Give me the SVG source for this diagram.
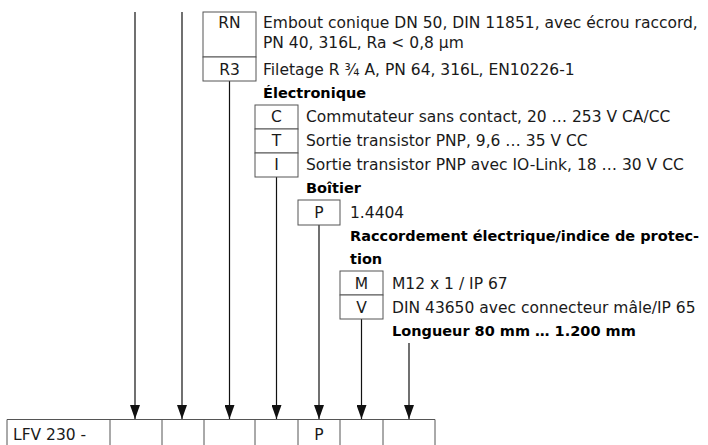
<svg xmlns="http://www.w3.org/2000/svg" width="708" height="445" viewBox="0 0 708 445">
<style>
.t{font-family:"DejaVu Sans","Liberation Sans",sans-serif;font-size:15.5px;fill:#1a1a1a}
.b{font-family:"DejaVu Sans","Liberation Sans",sans-serif;font-size:14.5px;font-weight:bold;fill:#000}
.c{text-anchor:middle}
.box{fill:#fff;stroke:#555;stroke-width:1}
.ln{stroke:#111;stroke-width:1.2;fill:none}
</style>
<defs>
<marker id="arr" viewBox="0 0 14 10" refX="14" refY="5" markerWidth="14" markerHeight="10" markerUnits="userSpaceOnUse" orient="auto">
<path d="M0,0 L14,5 L0,10 z" fill="#111"/>
</marker>
</defs>
<rect width="708" height="445" fill="#fff"/>
<g id="connectors">
<line class="ln" x1="135" y1="12" x2="135" y2="419" marker-end="url(#arr)"/>
<line class="ln" x1="182" y1="12" x2="182" y2="419" marker-end="url(#arr)"/>
<line class="ln" x1="229.5" y1="81" x2="229.5" y2="419" marker-end="url(#arr)"/>
<line class="ln" x1="276.5" y1="177" x2="276.5" y2="419" marker-end="url(#arr)"/>
<line class="ln" x1="319" y1="225" x2="319" y2="419" marker-end="url(#arr)"/>
<line class="ln" x1="361.5" y1="319" x2="361.5" y2="419" marker-end="url(#arr)"/>
<line class="ln" x1="409" y1="343" x2="409" y2="419" marker-end="url(#arr)"/>
</g>
<g id="raccord">
<rect class="box" x="203" y="12" width="53" height="45"/>
<rect class="box" x="203" y="57" width="53" height="24"/>
<text class="t c" x="229.5" y="28">RN</text>
<text class="t c" x="229.5" y="75">R3</text>
<text class="t" x="263" y="28">Embout conique DN 50, DIN 11851, avec écrou raccord,</text>
<text class="t" x="263" y="48">PN 40, 316L, Ra &lt; 0,8 µm</text>
<text class="t" x="263" y="75">Filetage R ¾ A, PN 64, 316L, EN10226-1</text>
</g>
<g id="electronique">
<text class="b" x="263" y="98">Électronique</text>
<rect class="box" x="255" y="105" width="43" height="24"/>
<rect class="box" x="255" y="129" width="43" height="24"/>
<rect class="box" x="255" y="153" width="43" height="24"/>
<text class="t c" x="276.5" y="122">C</text>
<text class="t c" x="276.5" y="146">T</text>
<text class="t c" x="276.5" y="170">I</text>
<text class="t" x="306" y="122">Commutateur sans contact, 20 … 253 V CA/CC</text>
<text class="t" x="306" y="146">Sortie transistor PNP, 9,6 … 35 V CC</text>
<text class="t" x="306" y="170">Sortie transistor PNP avec IO-Link, 18 … 30 V CC</text>
</g>
<g id="boitier">
<text class="b" x="306" y="193">Boîtier</text>
<rect class="box" x="298" y="200" width="42" height="25"/>
<text class="t c" x="319" y="218">P</text>
<text class="t" x="350" y="218">1.4404</text>
</g>
<g id="electrique">
<text class="b" x="350" y="241">Raccordement électrique/indice de protec-</text>
<text class="b" x="350" y="264">tion</text>
<rect class="box" x="340" y="271" width="43" height="24"/>
<rect class="box" x="340" y="295" width="43" height="24"/>
<text class="t c" x="361.5" y="289">M</text>
<text class="t c" x="361.5" y="313">V</text>
<text class="t" x="392" y="289">M12 x 1 / IP 67</text>
<text class="t" x="392" y="313">DIN 43650 avec connecteur mâle/IP 65</text>
</g>
<g id="longueur">
<text class="b" x="392" y="336">Longueur 80 mm … 1.200 mm</text>
</g>
<g id="code">
<path d="M7,445 V419.5 H435 V445 M110,419.5 V445 M162,419.5 V445 M204,419.5 V445 M255,419.5 V445 M298,419.5 V445 M340,419.5 V445 M383,419.5 V445" fill="none" stroke="#555" stroke-width="1"/>
<text class="t" x="13" y="440">LFV 230 -</text>
<text class="t c" x="319" y="440">P</text>
</g>
</svg>
